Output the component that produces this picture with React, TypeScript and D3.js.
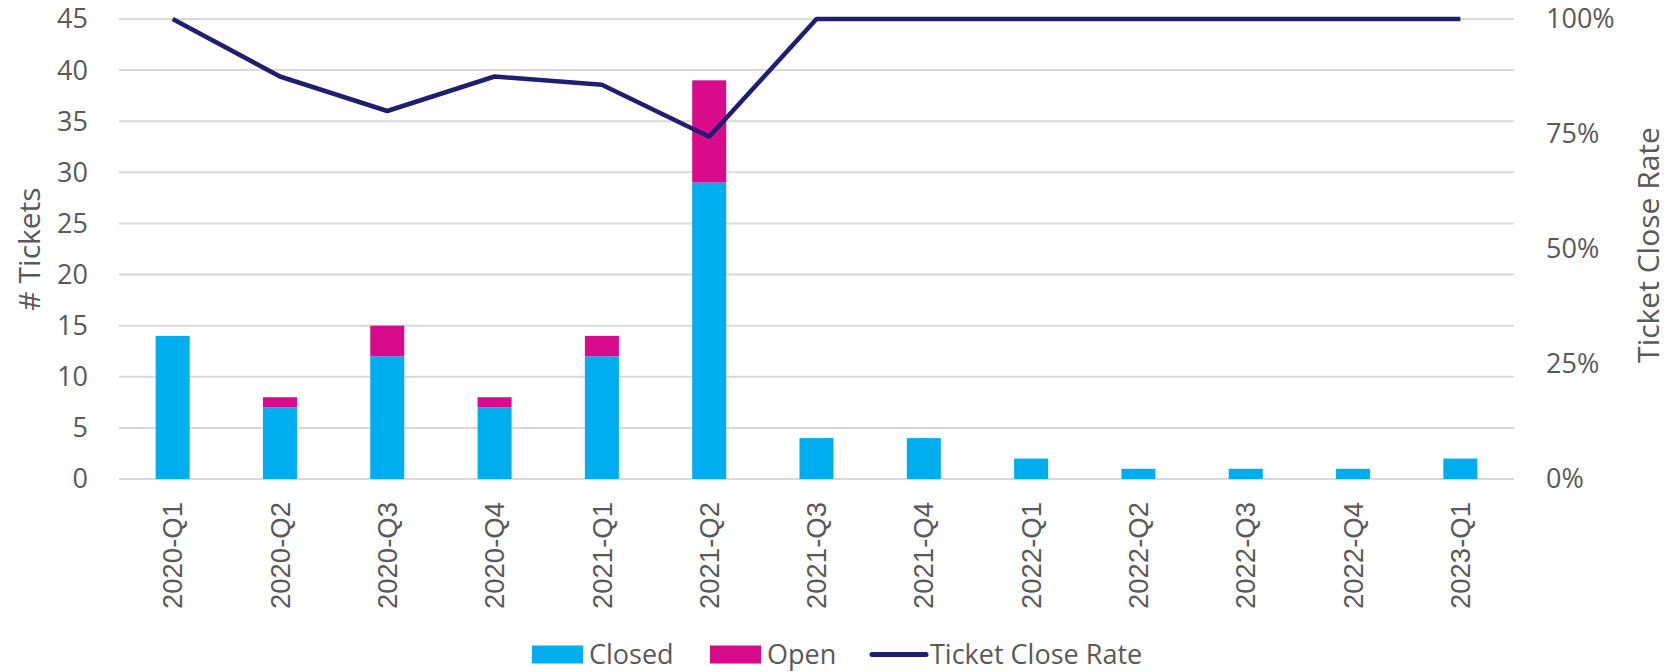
import React, { useEffect, useRef } from 'react';
import * as d3 from 'd3';

const quarters = [
  '2020-Q1', '2020-Q2', '2020-Q3', '2020-Q4',
  '2021-Q1', '2021-Q2', '2021-Q3', '2021-Q4',
  '2022-Q1', '2022-Q2', '2022-Q3', '2022-Q4',
  '2023-Q1',
];
const closed = [14, 7, 12, 7, 12, 29, 4, 4, 2, 1, 1, 1, 2];
const open = [0, 1, 3, 1, 2, 10, 0, 0, 0, 0, 0, 0, 0];
const closeRate = [1, 0.875, 0.8, 0.875, 0.857, 0.744, 1, 1, 1, 1, 1, 1, 1];
const leftTicks = [0, 5, 10, 15, 20, 25, 30, 35, 40, 45];
const rightTicks = [0, 0.25, 0.5, 0.75, 1];

const W = 1675;
const H = 672;
const COLORS = { closed: '#00AEEF', open: '#D70B8C', line: '#211E6F', grid: '#D9D9D9', text: '#595959' };
const FONT = '"Open Sans", sans-serif';

const App = () => {
  const svgRef = useRef<SVGSVGElement>(null);

  useEffect(() => {
    const svg = d3.select(svgRef.current);
    svg.selectAll('*').remove();

    const left = 119, right = 1514, top = 19, bottom = 479;

    const x = d3.scaleBand()
      .domain(quarters)
      .range([left, right])
      .paddingInner(0.683)
      .paddingOuter(0.3415);
    const yL = d3.scaleLinear().domain([0, 45]).range([bottom, top]);
    const yR = d3.scaleLinear().domain([0, 1]).range([bottom, top]);
    const cx = (q: string) => (x(q) as number) + x.bandwidth() / 2;

    // gridlines
    svg.append('g')
      .selectAll('line')
      .data(leftTicks)
      .enter()
      .append('line')
      .attr('x1', left)
      .attr('x2', right)
      .attr('y1', (d) => yL(d))
      .attr('y2', (d) => yL(d))
      .attr('stroke', COLORS.grid)
      .attr('stroke-width', 2);

    // stacked bars
    const rows = quarters.map((q, i) => ({ q, closed: closed[i], open: open[i] }));
    const bars = svg.append('g');
    bars.selectAll('.closed')
      .data(rows)
      .enter()
      .append('rect')
      .attr('x', (d) => x(d.q) as number)
      .attr('width', x.bandwidth())
      .attr('y', (d) => yL(d.closed))
      .attr('height', (d) => yL(0) - yL(d.closed))
      .attr('fill', COLORS.closed);
    bars.selectAll('.open')
      .data(rows.filter((d) => d.open > 0))
      .enter()
      .append('rect')
      .attr('x', (d) => x(d.q) as number)
      .attr('width', x.bandwidth())
      .attr('y', (d) => yL(d.closed + d.open))
      .attr('height', (d) => yL(d.closed) - yL(d.closed + d.open))
      .attr('fill', COLORS.open);

    // close rate line
    const line = d3.line<number>()
      .x((_, i) => cx(quarters[i]))
      .y((d) => yR(d));
    svg.append('path')
      .datum(closeRate)
      .attr('d', line)
      .attr('fill', 'none')
      .attr('stroke', COLORS.line)
      .attr('stroke-width', 4.5)
      .attr('stroke-linejoin', 'round');

    // left axis labels
    svg.append('g')
      .selectAll('text')
      .data(leftTicks)
      .enter()
      .append('text')
      .attr('x', 88)
      .attr('y', (d) => yL(d))
      .attr('dy', '0.35em')
      .attr('text-anchor', 'end')
      .style('font-family', FONT)
      .style('font-size', '27px')
      .attr('fill', COLORS.text)
      .text((d) => d);

    // right axis labels
    svg.append('g')
      .selectAll('text')
      .data(rightTicks)
      .enter()
      .append('text')
      .attr('x', 1546)
      .attr('y', (d) => yR(d))
      .attr('dy', '0.35em')
      .style('font-family', FONT)
      .style('font-size', '27px')
      .attr('fill', COLORS.text)
      .text((d) => d3.format('.0%')(d));

    // x labels
    svg.append('g')
      .selectAll('text')
      .data(quarters)
      .enter()
      .append('text')
      .attr('transform', (d) => `translate(${cx(d)},502) rotate(-90)`)
      .attr('dy', '0.35em')
      .attr('text-anchor', 'end')
      .style('font-family', '"Liberation Sans", Arial, sans-serif')
      .style('font-size', '27.5px')
      .attr('fill', COLORS.text)
      .text((d) => d);

    // axis titles
    svg.append('text')
      .attr('transform', `translate(29,${(top + bottom) / 2}) rotate(-90)`)
      .attr('dy', '0.35em')
      .attr('text-anchor', 'middle')
      .style('font-family', FONT)
      .style('font-size', '30px')
      .attr('fill', COLORS.text)
      .text('# Tickets');
    svg.append('text')
      .attr('transform', `translate(1648,${(top + bottom) / 2 - 4}) rotate(-90)`)
      .attr('dy', '0.35em')
      .attr('text-anchor', 'middle')
      .style('font-family', FONT)
      .style('font-size', '30px')
      .attr('fill', COLORS.text)
      .text('Ticket Close Rate');

    // legend
    const lg = svg.append('g');
    const legendY = 654.5;
    [
      { label: 'Closed', color: COLORS.closed, x0: 532, kind: 'rect' },
      { label: 'Open', color: COLORS.open, x0: 710, kind: 'rect' },
      { label: 'Ticket Close Rate', color: COLORS.line, x0: 870, kind: 'line' },
    ].forEach((item) => {
      if (item.kind === 'rect') {
        lg.append('rect')
          .attr('x', item.x0)
          .attr('y', legendY - 9)
          .attr('width', 51)
          .attr('height', 18)
          .attr('fill', item.color);
      } else {
        lg.append('line')
          .attr('x1', item.x0 + 2)
          .attr('x2', item.x0 + 56)
          .attr('y1', legendY)
          .attr('y2', legendY)
          .attr('stroke', item.color)
          .attr('stroke-width', 5)
          .attr('stroke-linecap', 'round');
      }
      lg.append('text')
        .attr('x', item.x0 + (item.kind === 'rect' ? 57 : 60))
        .attr('y', legendY)
        .attr('dy', '0.35em')
        .style('font-family', FONT)
        .style('font-size', '27px')
        .attr('fill', COLORS.text)
        .text(item.label);
    });
  }, []);

  return (
    <div style={{ position: 'fixed', left: 0, top: 0, width: W, height: H, background: '#fff' }}>
      <svg ref={svgRef} width={W} height={H} style={{ display: 'block' }} />
    </div>
  );
};

export default App;
